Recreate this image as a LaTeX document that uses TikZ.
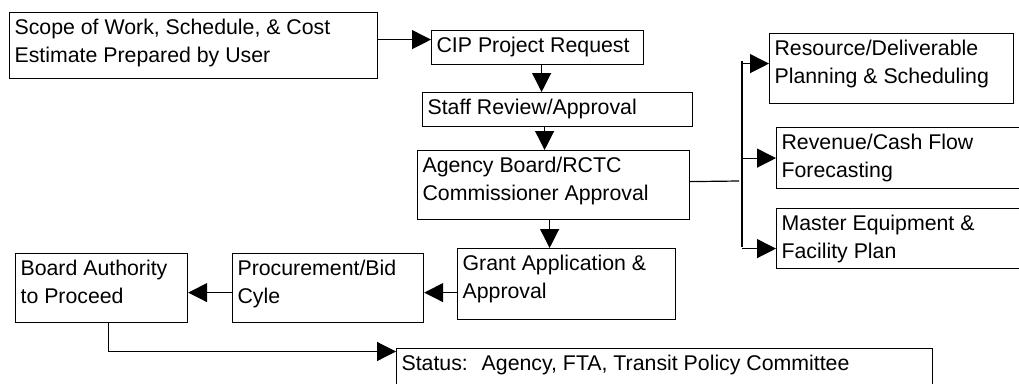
\documentclass[tikz,border=0pt]{standalone}
\usepackage{fontspec}
\setmainfont{Liberation Sans}
\usetikzlibrary{arrows.meta}
\newcommand{\boxtext}[3]{\parbox[c][#2][t]{#1}{\raggedright\strut #3}}

\begin{document}
\begin{tikzpicture}[x=1pt, y=-1pt,
	task/.style={draw, line width=1.2pt, anchor=north west, inner xsep=5pt, inner ysep=2.4pt,
		font=\fontsize{21.3}{27.7}\selectfont},
	flow/.style={line width=1.2pt, -{Triangle[length=19pt,width=19pt]}},
	link/.style={line width=1.2pt}]

    \useasboundingbox (0,0) rectangle (1019,383);
    \clip (0,0) rectangle (1019,383);

    % main chain
    \node[task] (scope) at (9,12) {\boxtext{358pt}{61.2pt}{Scope of Work, Schedule, \& Cost\\Estimate Prepared by User}};
    \node[task] (cip) at (431,30) {\boxtext{202pt}{29.2pt}{CIP Project Request}};
    \node[task] (staff) at (422,92) {\boxtext{260pt}{29.2pt}{Staff Review/Approval}};
    \node[task] (agency) at (417,150) {\boxtext{262pt}{64.2pt}{Agency Board/RCTC\\Commissioner Approval}};
    \node[task] (grant) at (457,248) {\boxtext{208pt}{66.2pt}{Grant Application \&\\Approval}};
    \node[task] (proc) at (232,253) {\boxtext{181pt}{64.2pt}{Procurement/Bid\\Cyle}};
    \node[task] (board) at (15,253) {\boxtext{162pt}{64.2pt}{Board Authority\\to Proceed}};
    \node[task] (status) at (396,348) {\boxtext{526pt}{47.2pt}{Status:~ Agency, FTA, Transit Policy Committee}};

    % planning outputs
    \node[task] (resource) at (769,33) {\boxtext{234pt}{65.2pt}{Resource/Deliverable\\Planning \& Scheduling}};
    \node[task] (revenue) at (776,127) {\boxtext{254pt}{56.2pt}{Revenue/Cash Flow\\Forecasting}};
    \node[task] (master) at (776,208) {\boxtext{254pt}{55.2pt}{Master Equipment \&\\Facility Plan}};

    \coordinate (fork) at (739,181);
    \coordinate (forktop) at (742,61);
    \coordinate (forkbot) at (742,247);

    \draw[flow] ([yshift=6pt]scope.east) -- ([yshift=6pt]scope.east -| cip.west);
    \draw[flow] ([xshift=4pt]cip.south) -- ([xshift=4pt]cip.south |- staff.north);
    \draw[flow] ([xshift=-9pt]agency.north |- staff.south) -- ([xshift=-9pt]agency.north);
    \draw[flow] ([xshift=-4pt]agency.south) -- ([xshift=-4pt]agency.south |- grant.north);
    \draw[flow] ([yshift=-4.5pt]proc.east -| grant.west) -- ([yshift=-4.5pt]proc.east);
    \draw[flow] ([yshift=-4.5pt]board.east -| proc.west) -- ([yshift=-4.5pt]board.east);
    \draw[flow] ([xshift=7pt]board.south) |- ([yshift=-3.5pt]status.north west);

    % fork to the right
    \draw[link] ([yshift=3.5pt]agency.east) -- (fork);
    \draw[link] (forktop) -- (forkbot);
    \draw[flow] ([yshift=5pt]resource.west -| forktop) -- ([yshift=5pt]resource.west);
    \draw[flow] (revenue.west -| forktop) -- (revenue.west);
    \draw[flow] ([yshift=-10pt]master.west -| forktop) -- ([yshift=-10pt]master.west);
\end{tikzpicture}
\end{document}
